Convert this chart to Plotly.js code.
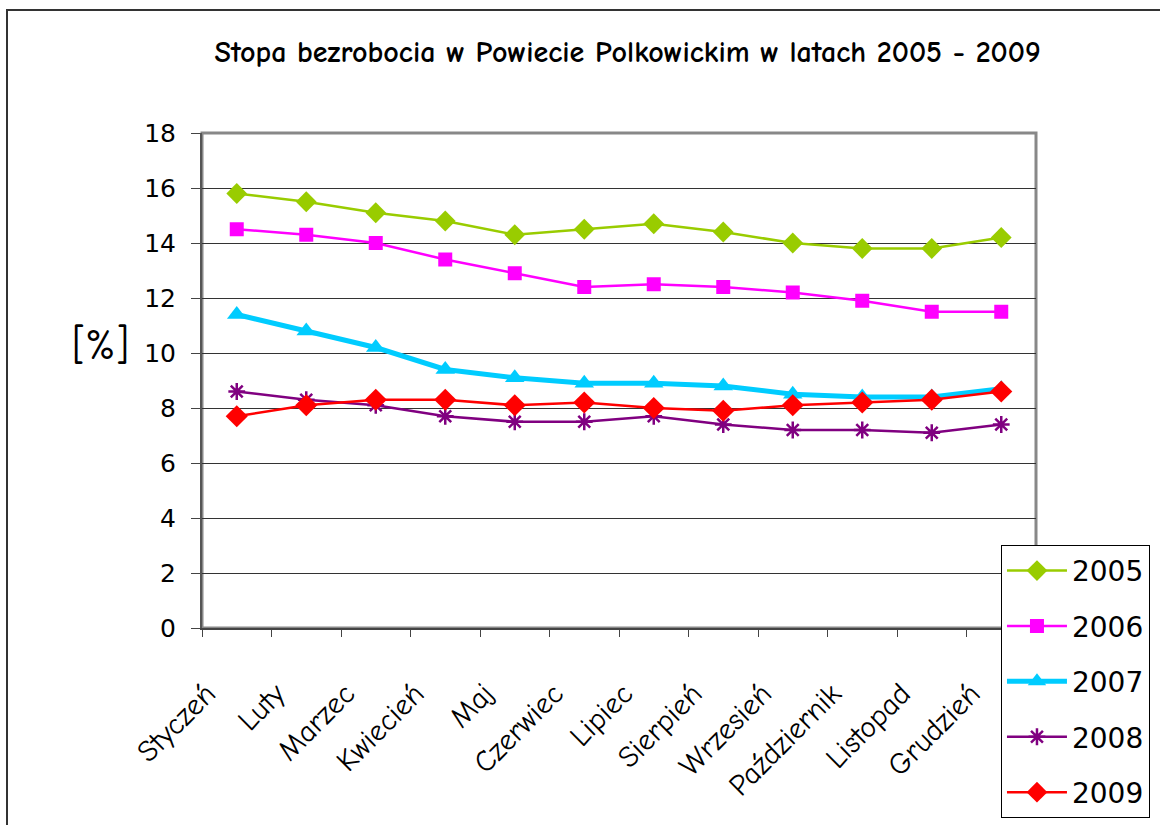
<!DOCTYPE html>
<html>
<head>
<meta charset="utf-8">
<script src="https://cdn.plot.ly/plotly-3.0.1.min.js"></script>
<style>
html,body{margin:0;padding:0;background:#fff;}
#wrap{position:relative;width:1160px;height:825px;overflow:hidden;}
#chart{width:1160px;height:825px;}
#frame{position:absolute;left:6px;top:9px;width:1300px;height:1000px;border-left:2px solid #333;border-top:2px solid #333;pointer-events:none;}
</style>
</head>
<body>
<div id="wrap"><div id="chart"></div><div id="frame"></div></div>
<script>
const months = ["Styczeń","Luty","Marzec","Kwiecień","Maj","Czerwiec","Lipiec","Sierpień","Wrzesień","Październik","Listopad","Grudzień"];
const y2005 = [15.8,15.5,15.1,14.8,14.3,14.5,14.7,14.4,14.0,13.8,13.8,14.2];
const y2006 = [14.5,14.3,14.0,13.4,12.9,12.4,12.5,12.4,12.2,11.9,11.5,11.5];
const y2007 = [11.4,10.8,10.2,9.4,9.1,8.9,8.9,8.8,8.5,8.4,8.4,8.7];
const y2008 = [8.6,8.3,8.1,7.7,7.5,7.5,7.7,7.4,7.2,7.2,7.1,7.4];
const y2009 = [7.7,8.1,8.3,8.3,8.1,8.2,8.0,7.9,8.1,8.2,8.3,8.6];
const yTicks = [0,2,4,6,8,10,12,14,16,18];

const comic = "'Comic Sans MS', 'Comic Neue', Lato, 'DejaVu Sans', sans-serif";

function tr(name, y, color, width, symbol, size, extraMarker) {
  return {
    type: "scatter", mode: "lines+markers", name: name, x: months, y: y,
    legendgroup: name,
    line: {color: color, width: width},
    marker: Object.assign({symbol: symbol, size: size, color: color}, extraMarker || {})
  };
}
const data = [
  tr("2005", y2005, "#99CC00", 2.5, "diamond", 16),
  tr("2006", y2006, "#FF00FF", 2.5, "square", 14),
  tr("2007", y2007, "#00CCFF", 5, "triangle-up", 17),
  tr("2008", y2008, "#800080", 2.5, "asterisk-open", 14, {line: {color: "#800080", width: 2.5}}),
  tr("2009", y2009, "#FF0000", 2.5, "diamond", 17)
];

const layout = {
  width: 1160, height: 825,
  margin: {l: 202, r: 124, t: 133, b: 197, autoexpand: false},
  paper_bgcolor: "#fff", plot_bgcolor: "#fff",
  showlegend: true,
  title: {
    text: "<b>Stopa bezrobocia w Powiecie Polkowickim w latach 2005 - 2009</b>",
    font: {family: comic, size: 30, color: "#000"},
    x: 0.541, xref: "container", xanchor: "center",
    y: 0.937, yref: "container", yanchor: "middle"
  },
  xaxis: {
    type: "category", range: [-0.5, 11.5], fixedrange: true, automargin: false,
    tickangle: -45, tickson: "boundaries", ticks: "outside", ticklen: 7, tickcolor: "#444", tickwidth: 1,
    showgrid: false, zeroline: false,
    showline: true, linecolor: "#444", linewidth: 2,
    tickfont: {family: comic, size: 30, color: "#000"},
    ticklabelstandoff: 34, ticklabelshift: -30
  },
  yaxis: {
    range: [0, 18], tickvals: yTicks, ticktext: yTicks.map(String), automargin: false,
    ticks: "outside", ticklen: 9, tickcolor: "#444", tickwidth: 1,
    showgrid: true, gridcolor: "#333", gridwidth: 1, zeroline: false,
    showline: true, linecolor: "#555", linewidth: 2,
    tickfont: {family: "'DejaVu Sans', sans-serif", size: 25, color: "#000"},
    ticklabelstandoff: 10
  },
  shapes: [
    {type: "rect", xref: "paper", yref: "paper", x0: 0, x1: 1, y0: 0, y1: 1,
     line: {color: "#888", width: 3}, layer: "below"}
  ],
  annotations: [
    {text: "[%]", xref: "paper", yref: "paper", x: -0.122, y: 0.57,
     xanchor: "center", yanchor: "middle", showarrow: false,
     font: {family: comic, size: 42, color: "#000"}}
  ],
  legend: {
    x: 0.958, xanchor: "left", y: 0.168, yanchor: "top",
    bgcolor: "#fff", bordercolor: "#000", borderwidth: 1,
    font: {family: "'DejaVu Sans', sans-serif", size: 28, color: "#000"},
    tracegroupgap: 16, itemwidth: 60
  }
};

Plotly.newPlot("chart", data, layout, {displayModeBar: false, staticPlot: true});
</script>
</body>
</html>
